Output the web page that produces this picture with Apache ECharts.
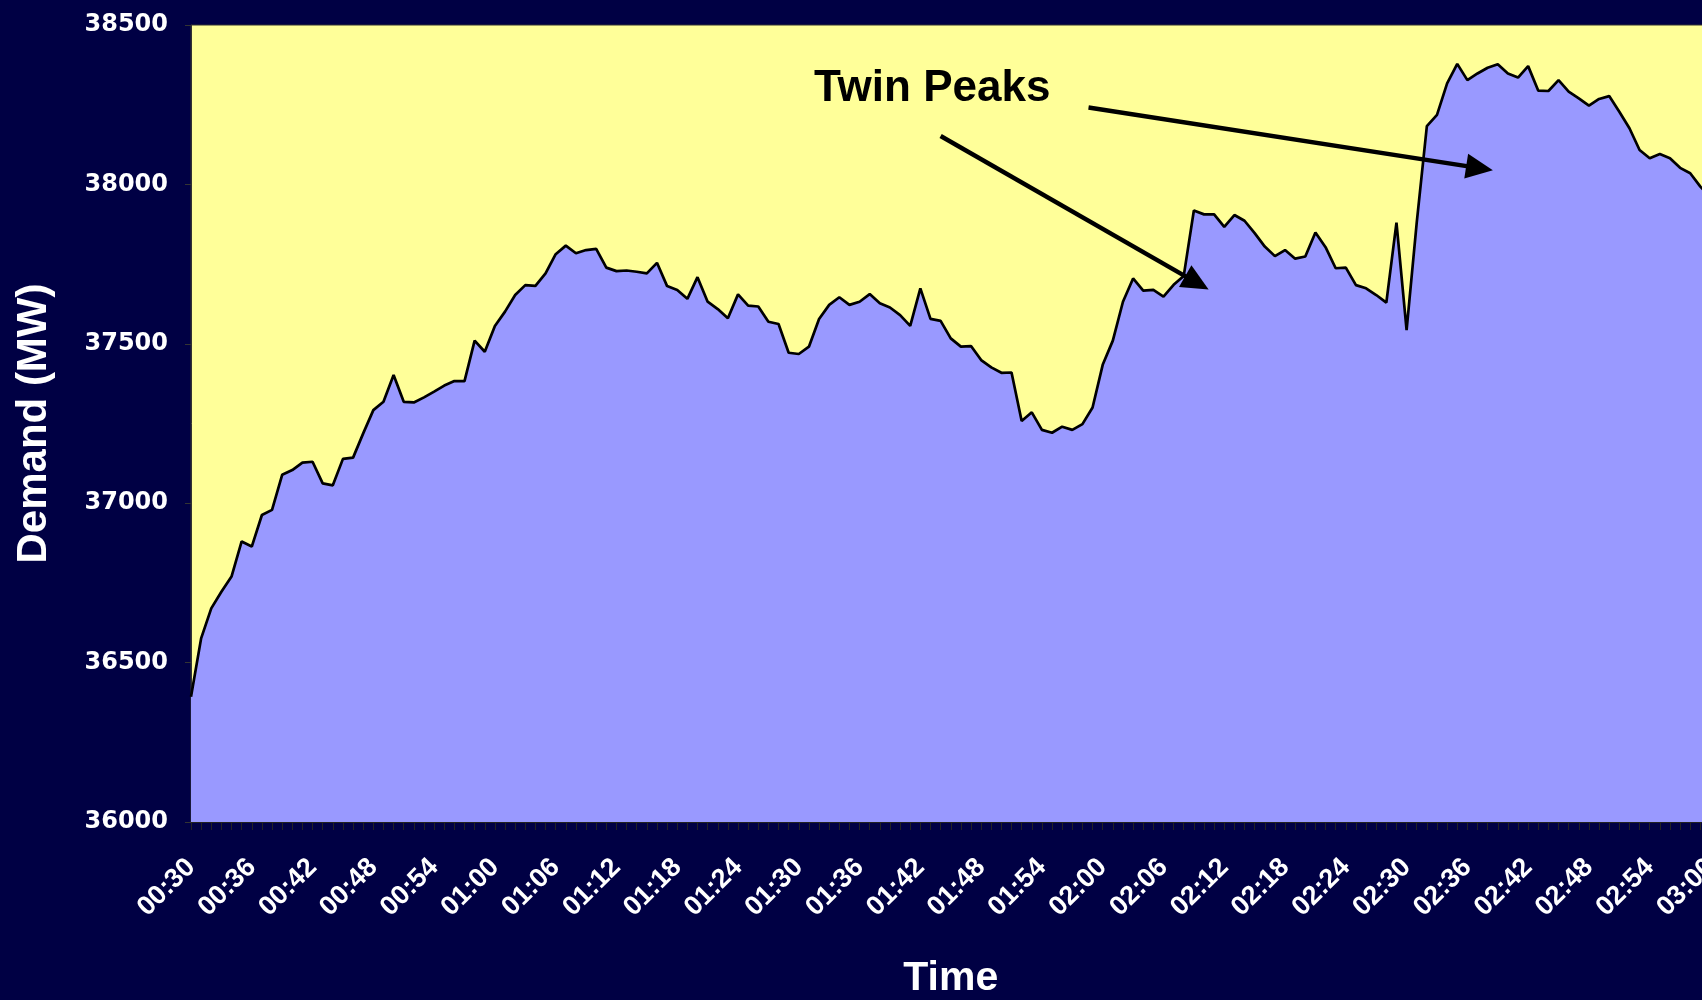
<!DOCTYPE html>
<html>
<head>
<meta charset="utf-8">
<script src="https://cdn.jsdelivr.net/npm/echarts@6/dist/echarts.min.js"></script>
<style>
html,body{margin:0;padding:0;background:#000044;}
#c{width:1702px;height:1000px;}
</style>
</head>
<body>
<div id="c"></div>
<script>
// Time categories (one per minute)
const times = [
"00:30","00:31","00:32","00:33","00:34","00:35","00:36","00:37","00:38","00:39",
"00:40","00:41","00:42","00:43","00:44","00:45","00:46","00:47","00:48","00:49",
"00:50","00:51","00:52","00:53","00:54","00:55","00:56","00:57","00:58","00:59",
"01:00","01:01","01:02","01:03","01:04","01:05","01:06","01:07","01:08","01:09",
"01:10","01:11","01:12","01:13","01:14","01:15","01:16","01:17","01:18","01:19",
"01:20","01:21","01:22","01:23","01:24","01:25","01:26","01:27","01:28","01:29",
"01:30","01:31","01:32","01:33","01:34","01:35","01:36","01:37","01:38","01:39",
"01:40","01:41","01:42","01:43","01:44","01:45","01:46","01:47","01:48","01:49",
"01:50","01:51","01:52","01:53","01:54","01:55","01:56","01:57","01:58","01:59",
"02:00","02:01","02:02","02:03","02:04","02:05","02:06","02:07","02:08","02:09",
"02:10","02:11","02:12","02:13","02:14","02:15","02:16","02:17","02:18","02:19",
"02:20","02:21","02:22","02:23","02:24","02:25","02:26","02:27","02:28","02:29",
"02:30","02:31","02:32","02:33","02:34","02:35","02:36","02:37","02:38","02:39",
"02:40","02:41","02:42","02:43","02:44","02:45","02:46","02:47","02:48","02:49",
"02:50","02:51","02:52","02:53","02:54","02:55","02:56","02:57","02:58","02:59",
"03:00"
];

// Demand (MW)
const demand = [
36393,36576,36670,36722,36770,36880,36864,36963,36979,37089,
37104,37127,37130,37062,37056,37139,37143,37219,37292,37318,
37402,37318,37316,37332,37350,37369,37383,37383,37510,37475,
37556,37601,37653,37684,37682,37721,37781,37808,37784,37794,
37798,37739,37728,37730,37726,37721,37754,37681,37669,37641,
37709,37632,37609,37580,37655,37620,37617,37569,37562,37472,
37468,37491,37578,37622,37646,37622,37632,37656,37627,37614,
37590,37556,37674,37578,37572,37517,37491,37493,37449,37426,
37409,37410,37258,37285,37230,37221,37240,37230,37248,37300,
37434,37510,37632,37705,37667,37669,37648,37685,37713,37918,
37906,37906,37867,37904,37886,37847,37805,37775,37794,37767,
37774,37849,37803,37737,37739,37684,37674,37653,37629,37880,
37543,37880,38183,38218,38317,38378,38327,38348,38366,38377,
38348,38335,38371,38294,38293,38327,38291,38270,38247,38268,
38277,38228,38176,38108,38082,38095,38082,38052,38035,37993,
37960
];

// Y axis range / ticks
const yMin = 36000, yMax = 38500, yStep = 500;
const labelEvery = 6; // minutes between time labels

// Annotation: "Twin Peaks" arrows, in data coordinates [minute index, MW]
const annotationText = "Twin Peaks";
const arrowStarts = [[74.0, 38152], [88.6, 38241]];
const arrowEnds   = [[99.3, 37691], [127.2, 38051]];

const chart = echarts.init(document.getElementById('c'), null, {renderer: 'canvas'});

const white = '#ffffff';
chart.setOption({
  backgroundColor: '#000044',
  animation: false,
  grid: {
    left: 191, right: -8.5, top: 25, bottom: 178,
    show: true, backgroundColor: '#FFFF99', borderColor: '#333333', borderWidth: 1,
    containLabel: false, outerBoundsMode: 'none'
  },
  xAxis: {
    type: 'value', min: 0, max: times.length - 1, interval: labelEvery,
    name: 'Time', nameLocation: 'middle', nameGap: 136,
    nameTextStyle: {color: white, fontFamily: 'Liberation Sans', fontWeight: 'bold', fontSize: 41},
    axisLine: {show: true, onZero: false, lineStyle: {color: '#222222', width: 1}},
    axisTick: {show: true, length: 8, lineStyle: {color: '#222222', width: 1}},
    minorTick: {show: true, splitNumber: labelEvery, length: 8, lineStyle: {color: '#222222', width: 1}},
    splitLine: {show: false}, minorSplitLine: {show: false},
    axisLabel: {
      rotate: 45, margin: 41, color: white, fontFamily: 'Liberation Sans', fontWeight: 'bold', fontSize: 27,
      formatter: function (v) { return times[Math.round(v)]; }
    }
  },
  yAxis: {
    type: 'value', min: yMin, max: yMax, interval: yStep,
    name: 'Demand (MW)', nameLocation: 'middle', nameRotate: 90, nameGap: 136,
    nameTextStyle: {color: white, fontFamily: 'Liberation Sans', fontWeight: 'bold', fontSize: 42},
    axisLine: {show: true, lineStyle: {color: '#333333', width: 1}},
    axisTick: {show: true, length: 6, lineStyle: {color: '#333333'}},
    splitLine: {show: false},
    axisLabel: {
      margin: 23, color: white, fontFamily: 'DejaVu Sans', fontWeight: 'bold', fontSize: 24,
      formatter: function (v) { return String(v); }
    }
  },
  series: [{
    type: 'line',
    data: demand.map(function (v, i) { return [i, v]; }),
    symbol: 'none',
    lineStyle: {color: '#000000', width: 2.7},
    areaStyle: {color: '#9999FF', opacity: 1},
    markLine: {
      silent: true,
      symbol: ['none', 'triangle'],
      symbolSize: [25, 27],
      lineStyle: {color: '#000000', width: 4.5, type: 'solid'},
      label: {show: false},
      emphasis: {disabled: true},
      data: arrowStarts.map(function (s, k) { return [{coord: s}, {coord: arrowEnds[k]}]; })
    }
  }],
  graphic: [{
    type: 'text', left: 814, top: 67, z: 100,
    style: {text: annotationText, fill: '#000000', font: 'bold 44px "Liberation Sans"'}
  }]
});
</script>
</body>
</html>
